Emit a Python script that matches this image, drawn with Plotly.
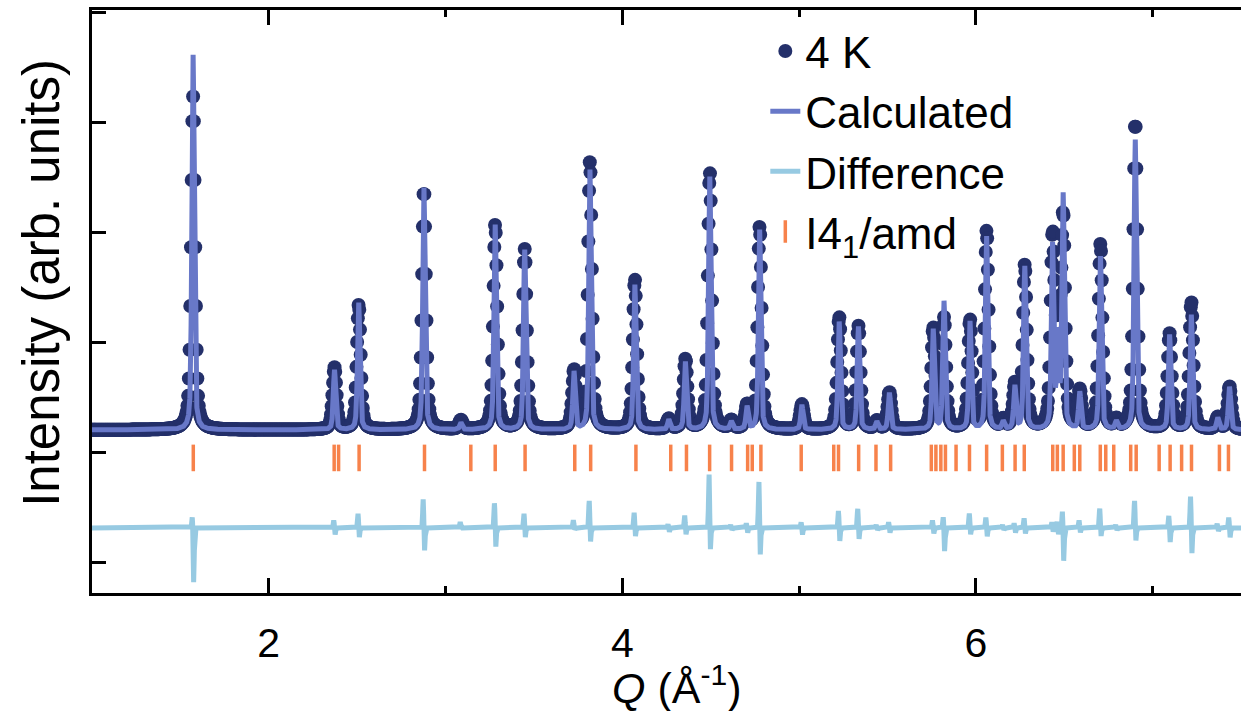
import numpy as np
import plotly.graph_objects as go

# Bragg peak positions (Q, 1/Å) with calculated and observed peak heights above background
peak_q = [1.572, 2.372, 2.509, 2.878, 3.087, 3.281, 3.448, 3.727, 3.817, 4.071,
          4.263, 4.357, 4.495, 4.617, 4.706, 4.777, 5.016, 5.227, 5.336, 5.440,
          5.511, 5.759, 5.820, 5.967, 6.061, 6.155, 6.221, 6.277, 6.434, 6.464,
          6.494, 6.588, 6.705, 6.795, 6.902, 7.096, 7.219, 7.369, 7.435]
calc_height = [3410, 545, 1155, 2200, 64, 1864, 1636, 527, 2364, 1318,
               91, 618, 2300, 73, 209, 1818, 227, 982, 936, 73,
               336, 909, 1164, 982, 1755, 73, 391, 1482, 1664, 818,
               2118, 336, 1573, 73, 2636, 864, 1045, 109, 391]
obs_height = [3030, 564, 1136, 2182, 82, 1864, 1636, 527, 2436, 1364,
              91, 636, 2336, 73, 209, 1845, 227, 1018, 936, 73,
              336, 909, 1000, 982, 1800, 73, 391, 1482, 1700, 818,
              1882, 336, 1682, 73, 2800, 864, 1155, 109, 391]
# residual lobes (positive / negative) around each peak
diff_up = [118, 73, 136, 273, 55, 236, 136, 73, 255, 145,
           36, 118, 500, 30, 45, 436, 55, 164, 182, 30,
           55, 73, 109, 136, 100, 30, 45, 91, 55, 60,
           164, 73, 182, 30, 255, 118, 300, 40, 100]
diff_down = [500, 64, 91, 218, 0, 182, 91, 18, 136, 82,
             36, 64, 218, 20, 45, 264, 64, 127, 109, 20,
             45, 55, 218, 64, 82, 20, 45, 55, 36, 60,
             309, 45, 82, 20, 127, 136, 245, 30, 91]

# I4_1/amd reflection positions
refl_q = [1.573, 2.370, 2.395, 2.511, 2.881, 3.143, 3.281, 3.450, 3.731, 3.821,
          4.077, 4.274, 4.363, 4.494, 4.618, 4.709, 4.735, 4.784, 5.012, 5.196,
          5.223, 5.337, 5.435, 5.518, 5.748, 5.774, 5.802, 5.828, 5.888, 5.964,
          6.061, 6.150, 6.222, 6.274, 6.435, 6.461, 6.494, 6.557, 6.588, 6.704,
          6.735, 6.780, 6.876, 6.907, 7.037, 7.099, 7.164, 7.220, 7.378, 7.429]

background = 210
diff_offset = -682
refl_level = -45

NAVY = "#24306a"
CALC = "#6878c8"
DIFF = "#97cae2"
ORANGE = "#f7824b"


def pseudo_voigt(q, q0, fwhm, eta=0.45):
    x = (q - q0) / fwhm
    lor = 1.0 / (1.0 + 4.0 * x ** 2)
    gau = np.exp(-4.0 * np.log(2.0) * x ** 2)
    return eta * lor + (1.0 - eta) * gau


def lobe(q, q0, sigma):
    return np.exp(-0.5 * ((q - q0) / sigma) ** 2)


q_fine = np.arange(1.0, 7.5001, 0.0005)
q_obs = np.arange(1.0, 7.5001, 0.004)

calc = np.full_like(q_fine, background, dtype=float)
obs = np.full_like(q_obs, background, dtype=float)
diff = np.full_like(q_fine, diff_offset, dtype=float)
for q0, hc, ho, du, dd in zip(peak_q, calc_height, obs_height, diff_up, diff_down):
    calc += hc * pseudo_voigt(q_fine, q0, 0.016)
    obs += ho * pseudo_voigt(q_obs, q0, 0.026)
    diff += du * lobe(q_fine, q0 - 0.004, 0.003) - dd * lobe(q_fine, q0 + 0.003, 0.003)

fig = go.Figure()
fig.add_trace(go.Scatter(
    x=q_obs, y=obs, mode="markers", name="4 K",
    marker=dict(color=NAVY, size=14, line=dict(width=0)),
))
fig.add_trace(go.Scatter(
    x=q_fine, y=calc, mode="lines", name="Calculated",
    line=dict(color=CALC, width=5),
))
fig.add_trace(go.Scatter(
    x=q_fine, y=diff, mode="lines", name="Difference",
    line=dict(color=DIFF, width=5),
))
fig.add_trace(go.Scatter(
    x=refl_q, y=[refl_level] * len(refl_q), mode="markers", name="I4<sub>1</sub>/amd",
    marker=dict(symbol="line-ns", size=19, color=ORANGE, line=dict(color=ORANGE, width=3.5)),
))

FONT = "Liberation Sans, Arial, sans-serif"

fig.update_layout(
    width=1241, height=711,
    margin=dict(l=92, r=0, t=10, b=118),
    paper_bgcolor="white", plot_bgcolor="white",
    font=dict(family=FONT, color="black"),
    showlegend=True,
    legend=dict(
        x=0.586, y=0.99, xanchor="left", yanchor="top",
        font=dict(family=FONT, size=44, color="black"),
        bgcolor="rgba(0,0,0,0)", borderwidth=0,
        itemsizing="trace",
    ),
    xaxis=dict(
        range=[1.0, 7.5], showgrid=False, zeroline=False,
        showline=True, linecolor="black", linewidth=2.5, mirror="ticks",
        ticks="inside", ticklen=15, tickwidth=2.5, tickcolor="black",
        tick0=0, dtick=2,
        minor=dict(dtick=1, ticks="inside", ticklen=7, tickwidth=2.5, tickcolor="black"),
        tickfont=dict(family=FONT, size=41, color="black"),
        ticklabelstandoff=12,
    ),
    yaxis=dict(
        range=[-1273, 4027], showgrid=False, zeroline=False,
        showline=True, linecolor="black", linewidth=2.5,
        ticks="inside", ticklen=14, tickwidth=2.5, tickcolor="black",
        tick0=0, dtick=1000, showticklabels=False,
    ),
    annotations=[
        dict(text="Intensity (arb. units)", textangle=-90, xref="paper", yref="paper",
             x=-0.0435, y=0.532, xanchor="center", yanchor="middle", showarrow=False,
             font=dict(family=FONT, size=51, color="black")),
        dict(text="<i>Q</i> (Å<sup>-1</sup>)", xref="paper", yref="paper",
             x=0.509, y=-0.157, xanchor="center", yanchor="middle", showarrow=False,
             font=dict(family=FONT, size=43, color="black")),
    ],
)

fig.write_html("out.html")
